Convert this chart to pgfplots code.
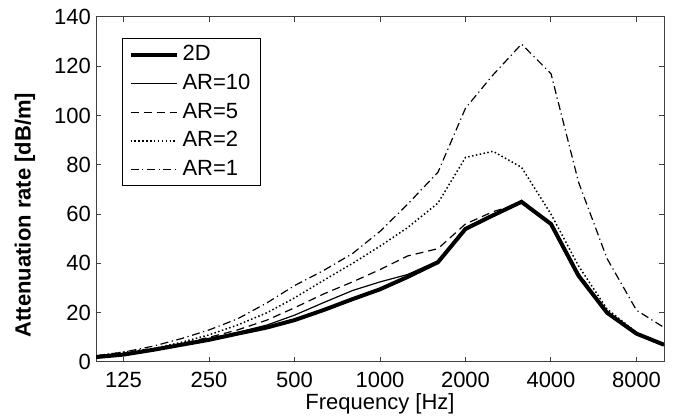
\documentclass[border=0pt]{standalone}
\usepackage{fontspec}
\setmainfont{Liberation Sans}
\usepackage{pgfplots}
\pgfplotsset{compat=1.18}
\pgfplotstableread{
f     d2    ar10  ar5   ar2   ar1
100   2     2     2.5   2.5   2.5
125   3     3     3.5   4     4
160   5     5     5     5.5   6.5
200   7     7     7.5   8     9.5
250   9     9.5   10    11    13
315   11.5  12    13    15    17.5
400   14    15    17    20    24
500   17    19    22    26    31
630   21    24    27.5  33    37
800   25.5  29    32.5  40    44
1000  29.5  32.5  37.5  47    53
1250  34.5  35.5  43    54.5  64
1600  40.5  41    46    64.5  77
2000  54    54.5  56    83    103
2500  59.5  60    61    85.5  116.5
3150  65    64.5  64.5  79    129
4000  56    56    56.5  60    117
5000  35    35.5  36    39    73
6300  20    20.5  20.5  21.5  42
8000  11.5  11.5  11.5  12    21
10000 7     7     7     7     14
}\data
\begin{document}
\begin{tikzpicture}
\path[use as bounding box] (-48pt,-27pt) rectangle (289.5pt,181pt);
\begin{axis}[
  scale only axis, width=284pt, height=172.5pt,
  at={(0pt,0pt)}, anchor=south west,
  xmode=log, xmin=100, xmax=10000, ymin=0, ymax=140,
  xtick={125,250,500,1000,2000,4000,8000},
  xticklabels={125,250,500,1000,2000,4000,8000},
  xminorticks=false,
  ytick={0,20,...,140},
  tick pos=both,
  tick align=inside, major tick length=2.5pt,
  tick style={black!75, line width=0.5pt},
  axis line style={black!75, line width=0.5pt},
  /pgf/number format/assume math mode=true,
  ticklabel style={font=\fontsize{11}{13}\selectfont},
  xticklabel style={yshift=-1.5pt},
  yticklabel style={xshift=1pt},
  xlabel={Frequency [Hz]},
  ylabel={\bfseries Attenuation rate [dB/m]},
  label style={font=\fontsize{11}{13}\selectfont},
  xlabel style={at={(axis description cs:0.5,-0.139)}, anchor=base},
  ylabel style={at={(axis description cs:-0.125,0.426)}, anchor=center},
  legend style={at={(axis description cs:0.0458,0.939)}, anchor=north west,
    draw=black, line width=0.5pt, fill=white,
    font=\fontsize{11}{13}\selectfont, inner xsep=3pt, inner ysep=1.5pt,
    row sep=1.2pt,
    /tikz/every even column/.append style={column sep=3pt}},
  legend cell align=left,
  legend image code/.code={\draw[#1] (0pt,0pt) -- (23pt,0pt);},
]
\addplot[black, line width=2pt] table[x=f, y=d2] {\data};
\addlegendentry{2D}
\addplot[black, line width=0.6pt] table[x=f, y=ar10] {\data};
\addlegendentry{AR=10}
\addplot[black, line width=0.6pt, dash pattern=on 4pt off 2.5pt] table[x=f, y=ar5] {\data};
\addlegendentry{AR=5}
\addplot[black, line width=0.75pt, dash pattern=on 0.75pt off 1.2pt] table[x=f, y=ar2] {\data};
\addlegendentry{AR=2}
\addplot[black, line width=0.6pt, dash pattern=on 4pt off 1.8pt on 0.6pt off 1.8pt] table[x=f, y=ar1] {\data};
\addlegendentry{AR=1}
\end{axis}
\end{tikzpicture}
\end{document}
